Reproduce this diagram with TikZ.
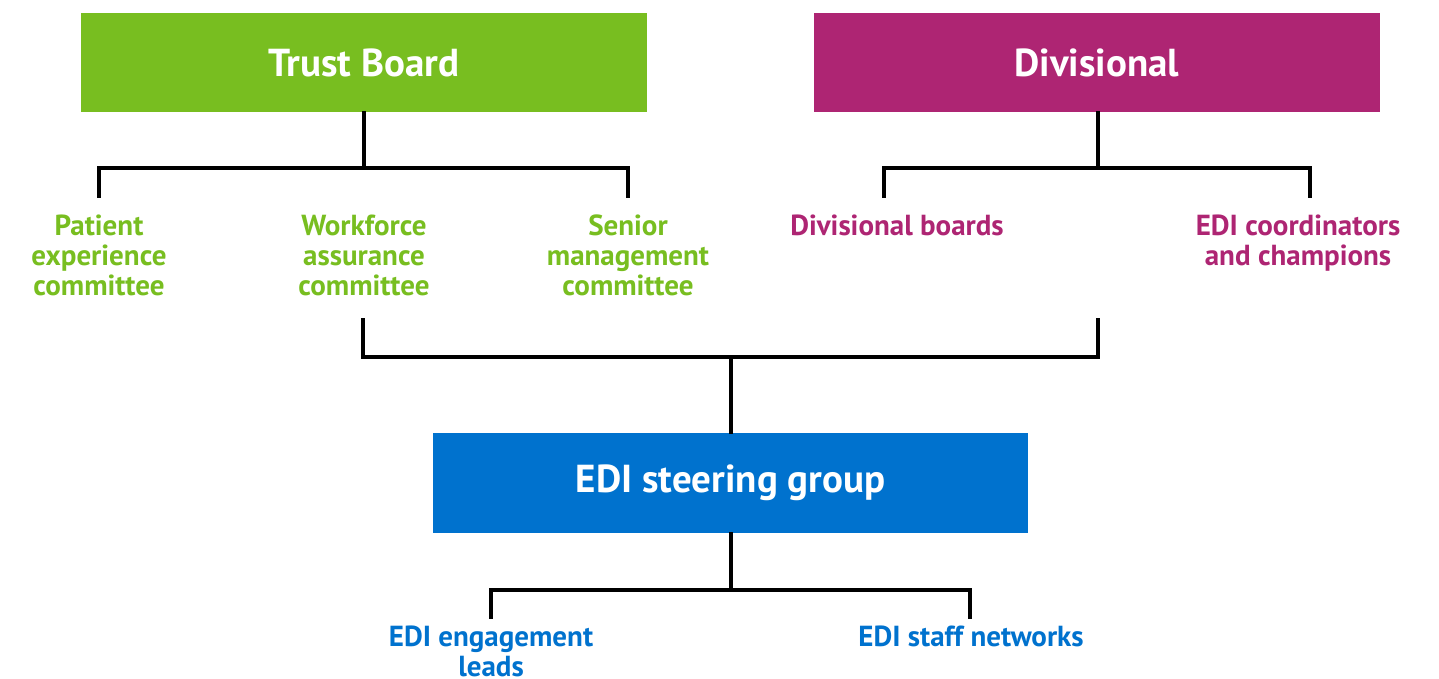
\documentclass[tikz,border=0pt]{standalone}
\usepackage{fontspec}
\setmainfont{PT Sans}
\definecolor{tgreen}{HTML}{78BE20}
\definecolor{tmag}{HTML}{AE2573}
\definecolor{tblue}{HTML}{0072CE}
\begin{document}
\begin{tikzpicture}[x=1pt,y=-1pt,
  box/.style={fill=#1,text=white,font=\fontsize{39}{44}\selectfont\bfseries,minimum width=566pt,minimum height=99pt,inner sep=0pt},
  lbl/.style={text=#1,font=\fontsize{29}{30}\selectfont\bfseries,align=center,anchor=north,inner sep=0pt},
  conn/.style={line width=3.2pt,line cap=rect}]
\useasboundingbox[fill=white] (0,0) rectangle (1439,679);
\node[box=tgreen] (tb) at (364,62.5) {Trust Board};
\node[box=tmag] (dv) at (1097,62.5) {Divisional};
\node[box=tblue,minimum width=595pt,minimum height=100pt] (edi) at (730.5,483) {EDI steering group};
% labels
\node[lbl=tgreen] (pe) at (99,214.5) {Patient\\experience\\committee};
\node[lbl=tgreen] (wa) at (364,214.5) {Workforce\\assurance\\committee};
\node[lbl=tgreen] (sm) at (628,214.5) {Senior\\management\\committee};
\node[lbl=tmag] (db) at (897,214.5) {Divisional boards};
\node[lbl=tmag] (ec) at (1298,214.5) {EDI coordinators\\and champions};
\node[lbl=tblue] (el) at (491,626) {EDI engagement\\leads};
\node[lbl=tblue] (sn) at (971,626) {EDI staff networks};
% coordinates
\coordinate (tbj) at (364,168);
\coordinate (pet) at (99,196);
\coordinate (smt) at (628,196);
\coordinate (dvj) at (1098,168);
\coordinate (dbt) at (884,196);
\coordinate (ect) at (1310,196);
\coordinate (wab) at (363,320);
\coordinate (dvb) at (1098,320);
\coordinate (mj) at (731,357);
\coordinate (edj) at (731,590);
\coordinate (elt) at (491,617);
\coordinate (snt) at (970,617);
% connectors
\draw[conn] (tb.south -| tbj) -- (tbj);
\draw[conn] (pet) |- (tbj) -| (smt);
\draw[conn] (dv.south -| dvj) -- (dvj);
\draw[conn] (dbt) |- (dvj) -| (ect);
\draw[conn] (wab) |- (mj) -| (dvb);
\draw[conn] (mj) -- (edi.north -| mj);
\draw[conn] (edi.south -| edj) -- (edj);
\draw[conn] (elt) |- (edj) -| (snt);
\end{tikzpicture}
\end{document}
